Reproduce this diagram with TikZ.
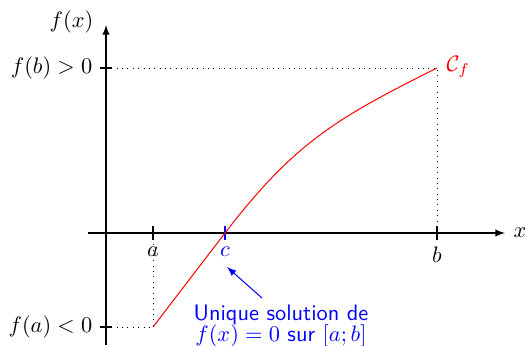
\documentclass[tikz,border=0pt]{standalone}
\usetikzlibrary{arrows}
\begin{document}
\begin{tikzpicture}[x=0.0157cm,y=-0.0157cm,
  axis/.style={line width=0.5pt,-latex},
  tickmark/.style={line width=0.5pt},
  guide/.style={dotted},
  curve/.style={red,line width=0.45pt},
  lab/.style={inner sep=1pt}]
\useasboundingbox (0,0) rectangle (525,345);
% reference points
\coordinate (xs) at (88,233);
\coordinate (xe) at (505,233);
\coordinate (ys) at (106,345);
\coordinate (ye) at (106,25);
\coordinate (A) at (153,327);
\coordinate (C) at (225,233);
\coordinate (B) at (437,68);
\coordinate (Ya) at (106,327);
\coordinate (Yb) at (106,68);
\coordinate (Xa) at (153,233);
\coordinate (Xb) at (437,233);
% axes
\draw[axis] (xs) -- (xe);
\draw[axis] (ys) -- (ye);
\node[lab,anchor=west] (xl) at (511,233) {$x$};
\node[lab,anchor=east] (yl) at (96,22) {$f(x)$};
% guides
\draw[guide] (Yb) -- (B) -- (Xb);
\draw[guide] (Ya) -- (A) -- (Xa);
% ticks
\draw[tickmark] ([xshift=-2.8pt]Yb) -- ([xshift=2.8pt]Yb);
\draw[tickmark] ([xshift=-2.8pt]Ya) -- ([xshift=2.8pt]Ya);
\draw[tickmark] ([yshift=-3.1pt]Xa) -- ([yshift=3.1pt]Xa);
\draw[tickmark] ([yshift=-3.1pt]Xb) -- ([yshift=3.1pt]Xb);
\draw[tickmark,blue] ([yshift=-3.1pt]C) -- ([yshift=3.1pt]C);
% labels
\node[lab,anchor=east] (fb) at (95,68) {$f(b)>0$};
\node[lab,anchor=east] (fa) at (95,327) {$f(a)<0$};
\node[lab] (al) at (153,252) {$a$};
\node[lab] (bl) at (437,255) {$b$};
\node[lab,blue] (cl) at (225,252) {$c$};
% curve
\draw[curve] (A) -- (C) .. controls (295,142) and (337,118) .. (B);
\node[lab,red,anchor=west] (cf) at (444,67) {$\mathcal{C}_f$};
% annotation
\node[blue,align=center,inner sep=1pt] (note) at (281,326)
  {\sffamily Unique solution de\\[-3pt] $f(x)=0$ \sffamily sur $[a;b]$};
\coordinate (tip) at (227,267);
\draw[blue,-latex,line width=0.45pt] (262,298) -- (tip);
\end{tikzpicture}
\end{document}
